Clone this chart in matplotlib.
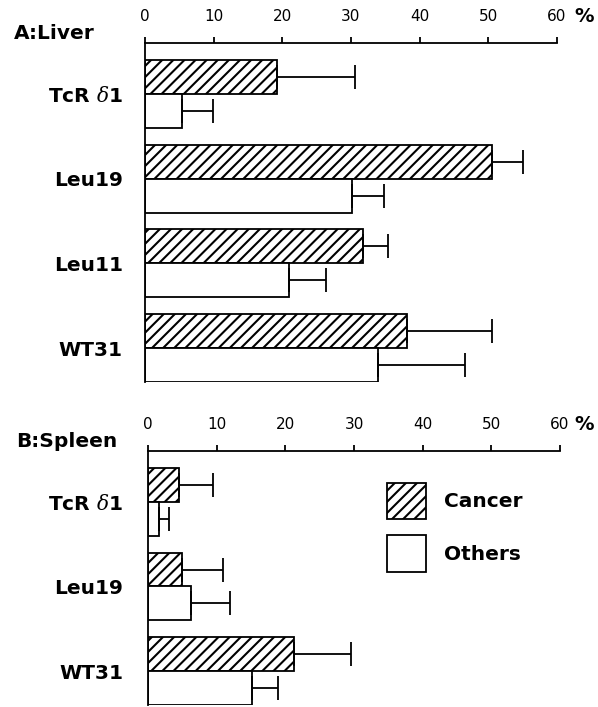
import matplotlib
matplotlib.use("Agg")
import matplotlib.pyplot as plt
import numpy as np

plt.rcParams['font.family'] = ['DejaVu Sans']
plt.rcParams['mathtext.fontset'] = 'dejavuserif'
plt.rcParams['hatch.linewidth'] = 1.5

# ---- data ----
liver_labels = ["TcR $\\delta$1", "Leu19", "Leu11", "WT31"]
liver_cancer = [19.2, 50.5, 31.8, 38.1]
liver_cancer_err = [11.4, 4.5, 3.6, 12.4]
liver_others = [5.4, 30.1, 21.0, 33.9]
liver_others_err = [4.5, 4.7, 5.3, 12.7]

spleen_labels = ["TcR $\\delta$1", "Leu19", "WT31"]
spleen_cancer = [4.5, 5.0, 21.2]
spleen_cancer_err = [4.9, 5.9, 8.4]
spleen_others = [1.6, 6.25, 15.1]
spleen_others_err = [1.5, 5.75, 3.9]

x_ticks = [0, 10, 20, 30, 40, 50, 60]
series_names = ["Cancer", "Others"]

W, H = 598, 707
fig = plt.figure(figsize=(W / 100, H / 100), dpi=100)


def px_axes(left, right, top, bottom):
    return fig.add_axes([left / W, 1 - bottom / H, (right - left) / W, (bottom - top) / H])


LW = 1.3
bar_h = 0.4
label_font = dict(fontsize=14.5, fontweight='bold')


def draw_panel(ax, labels, cancer, cancer_err, others, others_err, ypad):
    n = len(labels)
    idx = np.arange(n)
    yc = 0.4 + idx  # cancer bar centers
    yo = 0.8 + idx  # others bar centers
    ek = dict(elinewidth=LW, capthick=LW, ecolor='black')
    b1 = ax.barh(yc, cancer, height=bar_h, color='white', edgecolor='black',
                 hatch='///', linewidth=LW,
                 xerr=[np.zeros(n), cancer_err], capsize=8.5, error_kw=ek)
    b2 = ax.barh(yo, others, height=bar_h, color='white', edgecolor='black',
                 linewidth=LW,
                 xerr=[np.zeros(n), others_err], capsize=8.5, error_kw=ek)
    ax.set_xlim(0, 60)
    ax.set_ylim(n + 0.0, 0)
    ax.spines['right'].set_visible(False)
    ax.spines['bottom'].set_visible(False)
    ax.spines['top'].set_linewidth(LW)
    ax.spines['left'].set_linewidth(LW)
    ax.xaxis.set_ticks_position('top')
    ax.set_xticks(x_ticks)
    ax.set_xticklabels([str(t) for t in x_ticks], fontsize=11)
    ax.tick_params(axis='x', direction='out', length=4.5, width=LW, pad=9)
    ax.set_yticks(0.6 + idx)
    ax.set_yticklabels(labels, **label_font)
    ax.tick_params(axis='y', length=0, pad=ypad)
    return b1, b2


axA = px_axes(145, 557, 43, 382)
draw_panel(axA, liver_labels, liver_cancer, liver_cancer_err,
           liver_others, liver_others_err, ypad=16)

axB = px_axes(148, 560, 451, 705)
b1, b2 = draw_panel(axB, spleen_labels, spleen_cancer, spleen_cancer_err,
                    spleen_others, spleen_others_err, ypad=18)

axB.legend(handles=[b1, b2], labels=series_names, frameon=False,
           loc='upper left', bbox_to_anchor=(387 / W, 1 - 483 / H),
           bbox_transform=fig.transFigure, borderpad=0, borderaxespad=0,
           handlelength=1.95, handleheight=2.39, handletextpad=0.9,
           labelspacing=0.8, prop=dict(size=14.5, weight='bold'))

fig.text(14 / W, 1 - 39 / H, "A:Liver", ha='left', va='baseline', **label_font)
fig.text(16 / W, 1 - 447 / H, "B:Spleen", ha='left', va='baseline', **label_font)
fig.text(574 / W, 1 - 17 / H, "%", ha='left', va='center', fontsize=14, fontweight='bold')
fig.text(574 / W, 1 - 425 / H, "%", ha='left', va='center', fontsize=14, fontweight='bold')

fig.savefig("out.png", dpi=100)
